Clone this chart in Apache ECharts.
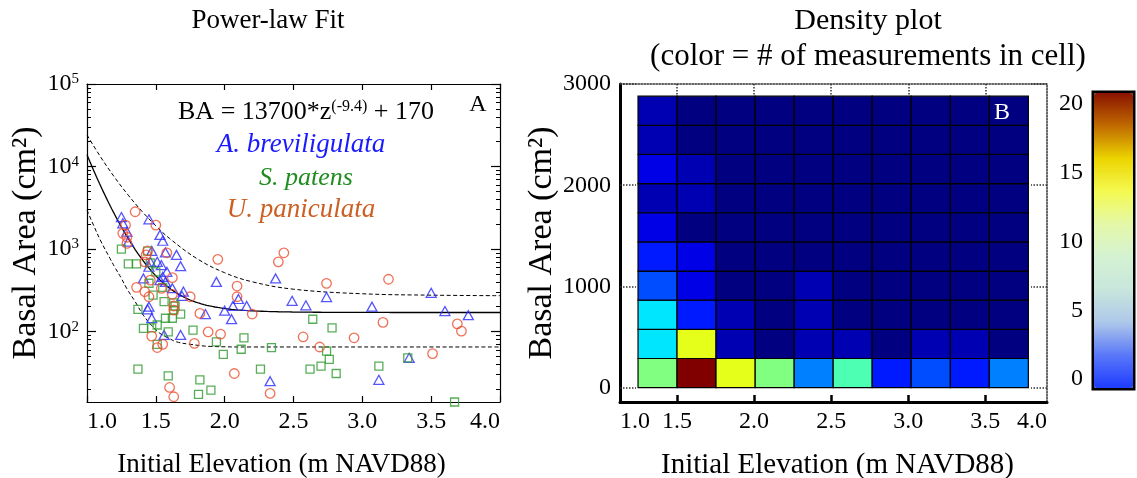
<!DOCTYPE html>
<html>
<head>
<meta charset="utf-8">
<script src="https://cdn.jsdelivr.net/npm/echarts@6/dist/echarts.min.js"></script>
<style>
  html, body { margin: 0; padding: 0; background: #fff; }
  #chart { width: 1137px; height: 478px; }
</style>
</head>
<body>
<div id="chart"></div>
<script>
// ---- Panel A: basal area vs. initial elevation, one list per species ----
// [elevation (m NAVD88), basal area (cm^2)]
const breviligulata = [
  [1.25,2440],[1.26,2050],[1.29,1620],[1.30,1230],[1.45,2290],[1.53,1480],[1.55,1260],
  [1.47,950],[1.57,910],[1.65,850],[1.46,700],[1.51,700],[1.54,640],[1.68,620],[1.45,610],
  [1.58,530],[1.41,440],[1.55,460],[1.53,420],[1.57,400],[1.62,335],[1.70,305],[1.69,270],
  [1.45,200],[1.44,186],[1.47,145],[1.56,91],[1.68,91],[1.94,400],[1.86,163],[2.00,179],
  [2.05,141],[2.06,204],[2.10,248],[2.16,204],[2.37,440],[2.49,236],[2.59,208],[2.33,25],
  [2.74,262],[3.07,200],[3.12,26],[3.34,48],[3.50,295],[3.60,177],[3.77,158]
];
const patens = [
  [1.25,1000],[1.30,660],[1.36,660],[1.44,945],[1.46,680],[1.50,530],[1.45,385],[1.48,277],
  [1.55,343],[1.37,186],[1.41,109],[1.47,111],[1.51,120],[1.57,145],[1.62,145],[1.56,230],
  [1.63,223],[1.64,204],[1.63,182],[1.68,163],[1.59,99],[1.77,104],[1.51,70],[1.37,35],
  [1.59,29],[1.82,26],[1.81,17.3],[1.90,19.5],[1.94,75],[1.99,53],[2.14,84],[2.12,61],
  [2.26,35],[2.34,64],[2.64,141],[2.62,35],[2.78,111],[2.74,58],[2.76,46],[2.70,38],
  [2.81,31],[3.12,38],[3.33,48],[3.67,14]
];
const paniculata = [
  [1.35,2830],[1.28,1950],[1.26,1550],[1.29,1390],[1.29,1170],[1.50,1950],[1.44,950],
  [1.43,850],[1.58,900],[1.42,700],[1.36,343],[1.42,304],[1.45,264],[1.46,420],[1.62,450],
  [1.54,334],[1.62,282],[1.75,264],[1.63,204],[1.63,182],[1.82,166],[1.95,750],[2.09,356],
  [2.09,264],[2.20,163],[1.88,99],[1.97,93],[1.78,72],[1.47,88],[1.55,70],[1.51,64],
  [2.07,31],[1.60,21],[1.63,16.2],[2.33,17.8],[2.39,700],[2.43,900],[2.57,86],[2.74,384],
  [3.19,430],[3.15,129],[2.69,65],[2.94,84],[3.51,54],[3.69,124],[3.72,101]
];

// Power-law fit BA = A * z^B + C, as written on the panel
const FIT_A = 13700, FIT_B = -9.4, FIT_C = 170;
// Envelope around the fit: [elevation, basal area]
const fitUpper = [
  [1.0,24100],[1.1,12970],[1.2,7420],[1.3,4490],[1.4,2856],[1.5,1910],[1.6,1342],
  [1.8,763],[2.0,516],[2.2,401],[2.5,326],[3.0,287],[3.5,276],[4.0,272]
];
const fitLower = [
  [1.0,2970],[1.05,1900],[1.1,1250],[1.167,770],[1.2,610],[1.25,440],[1.288,334],
  [1.35,230],[1.409,158],[1.47,118],[1.53,95],[1.6,82],[1.65,75],[1.75,70],[1.9,66],
  [2.2,65],[3.0,65],[4.0,65]
];

// ---- Panel B: counts per (elevation, basal area) cell ----
const elevEdges = [1.247,1.500,1.753,2.007,2.260,2.513,2.766,3.019,3.273,3.526,3.779];
const areaEdges = [0,288,576,864,1152,1440,1728,2016,2304,2592,2880];
// rows from the lowest basal-area bin upward, columns by elevation
const counts = [
  [10,20,12,10,5,9,3,4,3,5],
  [7,12,1,0,1,1,0,1,1,0],
  [7,3,1,0,1,0,0,0,0,0],
  [4,2,0,0,1,0,0,0,0,0],
  [3,2,0,0,0,0,0,0,0,0],
  [2,0,0,0,0,0,0,0,0,0],
  [1,1,0,0,0,0,0,0,0,0],
  [2,1,0,0,0,0,0,0,0,0],
  [1,0,0,0,0,0,0,0,0,0],
  [1,0,0,0,0,0,0,0,0,0]
];

// Axis ticks and labels
const logMajorTicks = [100, 1000, 10000, 100000];
const elevTicksA = ['1.0','1.5','2.0','2.5','3.0','3.5','4.0'];
const elevTickPosB = [1.13, 1.5, 2.0, 2.5, 3.0, 3.5, 3.90];
const elevTickTextB = ['1.0','1.5','2.0','2.5','3.0','3.5','4.0'];
const elevMarksB = [1.5, 2.0, 2.5, 3.0, 3.5];
const areaTicksB = [0, 1000, 2000, 3000];
const colorbarTicks = [0, 5, 10, 15, 20];

const FONT = "'Liberation Serif', 'Times New Roman', Times, serif";

// minor log ticks at 2..9 of each decade
const logMinorTicks = [];
for (let e = 1; e <= 4; e++) {
  for (let k = 2; k <= 9; k++) {
    const v = k * Math.pow(10, e);
    if (v >= 14 && v <= 100000) logMinorTicks.push(v);
  }
}

// fitted curve sampled along the elevation axis
const fitCurve = [];
for (let i = 0; i <= 300; i++) {
  const z = 1 + i * 0.01;
  fitCurve.push([z, FIT_A * Math.pow(z, FIT_B) + FIT_C]);
}

const cells = [];
for (let r = 0; r < counts.length; r++) {
  for (let c = 0; c < counts[r].length; c++) {
    cells.push([elevEdges[c], elevEdges[c + 1], areaEdges[r], areaEdges[r + 1], counts[r][c]]);
  }
}

const black = '#000';
const labelStyle = { color: black, fontSize: 24, fontFamily: FONT };
const nameStyle = { color: black, fontSize: 27, fontFamily: FONT };
const yNameStyle = { color: black, fontSize: 34, fontFamily: FONT };
const dotted = { color: '#333', width: 1.5, type: [1.5, 1.5] };

function labelFor(positions, texts) {
  return function (v) {
    for (let i = 0; i < positions.length; i++) {
      if (Math.abs(positions[i] - v) < 1e-6) return texts[i];
    }
    return '';
  };
}

const chart = echarts.init(document.getElementById('chart'), null, { renderer: 'canvas' });

chart.setOption({
  backgroundColor: '#fff',
  animation: false,
  grid: [
    { left: 87, top: 84, width: 413, height: 318, outerBoundsMode: 'none' },
    { left: 620, top: 84, width: 427, height: 318, outerBoundsMode: 'none' },
    { left: 1093, top: 92, width: 41, height: 297, outerBoundsMode: 'none',
      show: true, borderColor: black, borderWidth: 3, backgroundColor: 'transparent' }
  ],
  xAxis: [
    {
      gridIndex: 0, type: 'value', min: 1, max: 4, interval: 0.5, position: 'bottom',
      axisLine: { onZero: false, lineStyle: { color: black, width: 1.2 } },
      axisTick: { inside: true, length: 6, lineStyle: { color: black, width: 1.2 } },
      axisLabel: Object.assign({}, labelStyle, {
        margin: 8,
        formatter: (v) => elevTicksA[Math.round((v - 1) / 0.5)],
        alignMinLabel: 'left', alignMaxLabel: 'right'
      }),
      splitLine: { show: false },
      name: 'Initial Elevation (m NAVD88)', nameLocation: 'middle', nameGap: 49,
      nameTextStyle: Object.assign({}, nameStyle, { padding: [0, 24, 0, 0] })
    },
    {
      gridIndex: 0, type: 'value', min: 1, max: 4, interval: 0.5, position: 'top',
      axisLine: { onZero: false, lineStyle: { color: black, width: 1.2 } },
      axisTick: { inside: true, length: 6, lineStyle: { color: black, width: 1.2 } },
      axisLabel: { show: false }, splitLine: { show: false }
    },
    {
      gridIndex: 1, type: 'value', min: 1.13, max: 3.90, position: 'bottom',
      axisLine: { onZero: false, lineStyle: { color: black, width: 3 } },
      axisTick: { inside: true, length: 7, customValues: elevMarksB, lineStyle: { color: black, width: 2.5 } },
      axisLabel: Object.assign({}, labelStyle, {
        margin: 8,
        customValues: elevTickPosB,
        formatter: labelFor(elevTickPosB, elevTickTextB),
        alignMinLabel: 'left', alignMaxLabel: 'right'
      }),
      splitLine: { show: false },
      name: 'Initial Elevation (m NAVD88)', nameLocation: 'middle', nameGap: 49,
      nameTextStyle: Object.assign({}, nameStyle, { fontSize: 29, padding: [0, 0, 0, 8] })
    },
    {
      gridIndex: 1, type: 'value', min: 1.13, max: 3.90, position: 'top',
      axisLine: { onZero: false, lineStyle: dotted },
      axisTick: { inside: true, length: 11, customValues: elevMarksB, lineStyle: dotted },
      axisLabel: { show: false }, splitLine: { show: false }
    },
    { gridIndex: 2, type: 'value', min: 0, max: 1, show: false }
  ],
  yAxis: [
    {
      gridIndex: 0, type: 'log', logBase: 10, min: 14, max: 100000, position: 'left',
      axisLine: { show: true, onZero: false, lineStyle: { color: black, width: 1.2 } },
      axisTick: { show: true, inside: true, length: 9, customValues: logMajorTicks, lineStyle: { color: black, width: 1.2 } },
      axisLabel: {
        color: black, margin: 8, customValues: logMajorTicks,
        formatter: (v) => '{b|10}{s|' + Math.round(Math.log10(v)) + '}',
        rich: {
          b: { fontSize: 24, fontFamily: FONT, color: black },
          s: { fontSize: 15, fontFamily: FONT, color: black, verticalAlign: 'top' }
        }
      },
      splitLine: { show: false },
      name: 'Basal Area (cm²)', nameLocation: 'middle', nameGap: 44, nameTextStyle: yNameStyle
    },
    {
      gridIndex: 0, type: 'log', logBase: 10, min: 14, max: 100000, position: 'left',
      axisLine: { show: false },
      axisTick: { show: true, inside: true, length: 4, customValues: logMinorTicks, lineStyle: { color: black, width: 1 } },
      axisLabel: { show: false }, splitLine: { show: false }
    },
    {
      gridIndex: 0, type: 'log', logBase: 10, min: 14, max: 100000, position: 'right',
      axisLine: { show: true, onZero: false, lineStyle: { color: black, width: 1.2 } },
      axisTick: { show: true, inside: true, length: 9, customValues: logMajorTicks, lineStyle: { color: black, width: 1.2 } },
      axisLabel: { show: false }, splitLine: { show: false }
    },
    {
      gridIndex: 0, type: 'log', logBase: 10, min: 14, max: 100000, position: 'right',
      axisLine: { show: false },
      axisTick: { show: true, inside: true, length: 4, customValues: logMinorTicks, lineStyle: { color: black, width: 1 } },
      axisLabel: { show: false }, splitLine: { show: false }
    },
    {
      gridIndex: 1, type: 'value', min: -142, max: 3000, position: 'left',
      axisLine: { show: true, onZero: false, lineStyle: { color: black, width: 3 } },
      axisTick: { show: true, inside: true, length: 16, customValues: areaTicksB, lineStyle: dotted },
      axisLabel: Object.assign({}, labelStyle, { margin: 9, customValues: areaTicksB, formatter: (v) => String(v) }),
      splitLine: { show: false },
      name: 'Basal Area (cm²)', nameLocation: 'middle', nameGap: 60, nameTextStyle: yNameStyle
    },
    {
      gridIndex: 1, type: 'value', min: -142, max: 3000, position: 'right',
      axisLine: { show: true, onZero: false, lineStyle: dotted },
      axisTick: { show: true, inside: true, length: 16, customValues: areaTicksB, lineStyle: dotted },
      axisLabel: { show: false }, splitLine: { show: false }
    },
    {
      gridIndex: 2, type: 'value', min: -0.72, max: 20.87, position: 'left',
      axisLine: { show: false }, axisTick: { show: false },
      axisLabel: Object.assign({}, labelStyle, { margin: 10, customValues: colorbarTicks, formatter: (v) => String(v) }),
      splitLine: { show: false }
    }
  ],
  visualMap: [
    {
      type: 'continuous', show: false, seriesIndex: 6, dimension: 4, min: 0, max: 20,
      inRange: { color: ['#000080','#0000ff','#0080ff','#00ffff','#80ff80','#ffff00','#ff8000','#ff0000','#800000'] }
    },
    {
      type: 'continuous', seriesIndex: 7, dimension: 1, min: -0.62, max: 20.77,
      left: 1094, top: 93, itemWidth: 39, itemHeight: 295, padding: 0,
      borderWidth: 0, calculable: false, hoverLink: false, z: 1,
      inRange: { color: ['#1e3cff','#5a78f8','#aec8ea','#c8e6dc','#d4f2d2','#e4f8a8','#f4fa50','#ecd400','#c06a00','#8a1200'] }
    }
  ],
  series: [
    {
      name: 'A. breviligulata', type: 'scatter', xAxisIndex: 0, yAxisIndex: 0,
      symbol: 'triangle', symbolSize: [10, 9], data: breviligulata, z: 3,
      itemStyle: { color: 'transparent', borderColor: '#2b2bff', borderWidth: 1.3 }
    },
    {
      name: 'S. patens', type: 'scatter', xAxisIndex: 0, yAxisIndex: 0,
      symbol: 'rect', symbolSize: 8, data: patens, z: 3,
      itemStyle: { color: 'transparent', borderColor: '#2e9a2e', borderWidth: 1.3 }
    },
    {
      name: 'U. paniculata', type: 'scatter', xAxisIndex: 0, yAxisIndex: 0,
      symbol: 'circle', symbolSize: 9.5, data: paniculata, z: 3,
      itemStyle: { color: 'transparent', borderColor: '#ec4e2e', borderWidth: 1.3 }
    },
    {
      name: 'fit', type: 'line', xAxisIndex: 0, yAxisIndex: 0, data: fitCurve,
      showSymbol: false, symbol: 'none', z: 2,
      lineStyle: { color: black, width: 1.3 }
    },
    {
      name: 'upper', type: 'line', xAxisIndex: 0, yAxisIndex: 0, data: fitUpper,
      showSymbol: false, symbol: 'none', smooth: 0.4, z: 2,
      lineStyle: { color: black, width: 1, type: [4, 2.5] }
    },
    {
      name: 'lower', type: 'line', xAxisIndex: 0, yAxisIndex: 0, data: fitLower,
      showSymbol: false, symbol: 'none', smooth: 0.4, z: 2,
      lineStyle: { color: black, width: 1, type: [4, 2.5] }
    },
    {
      name: 'density', type: 'custom', xAxisIndex: 2, yAxisIndex: 4,
      dimensions: ['x0', 'x1', 'y0', 'y1', 'count'],
      encode: { x: [0, 1], y: [2, 3] },
      data: cells,
      renderItem: function (params, api) {
        const tl = api.coord([api.value(0), api.value(3)]);
        const br = api.coord([api.value(1), api.value(2)]);
        return {
          type: 'rect',
          shape: { x: tl[0], y: tl[1], width: br[0] - tl[0], height: br[1] - tl[1] },
          style: { fill: api.visual('color'), stroke: black, lineWidth: 1.2 }
        };
      }
    },
    { name: 'colorbar', type: 'scatter', xAxisIndex: 4, yAxisIndex: 6, data: [] }
  ],
  graphic: [
    { type: 'text', x: 268, y: 21, style: { text: 'Power-law Fit', font: '27px ' + FONT, fill: black, align: 'center', verticalAlign: 'middle' } },
    { type: 'text', x: 868, y: 21, style: { text: 'Density plot', font: '30px ' + FONT, fill: black, align: 'center', verticalAlign: 'middle' } },
    { type: 'text', x: 868, y: 57, style: { text: '(color = # of measurements in cell)', font: '31px ' + FONT, fill: black, align: 'center', verticalAlign: 'middle' } },
    {
      type: 'text', x: 306, y: 112, z: 10,
      style: {
        text: '{m|BA = 13700*z}{s|(-9.4)}{m| + 170}', align: 'center', verticalAlign: 'middle',
        rich: {
          m: { fontSize: 26, fontFamily: FONT, fill: black },
          s: { fontSize: 16, fontFamily: FONT, fill: black, verticalAlign: 'top' }
        }
      }
    },
    { type: 'text', x: 301, y: 145, z: 10, style: { text: 'A. breviligulata', font: 'italic 27px ' + FONT, fill: '#1a1aff', align: 'center', verticalAlign: 'middle' } },
    { type: 'text', x: 306, y: 178, z: 10, style: { text: 'S. patens', font: 'italic 26px ' + FONT, fill: '#1e8c1e', align: 'center', verticalAlign: 'middle' } },
    { type: 'text', x: 301, y: 210, z: 10, style: { text: 'U. paniculata', font: 'italic 27px ' + FONT, fill: '#cc5f22', align: 'center', verticalAlign: 'middle' } },
    { type: 'text', x: 478, y: 105, z: 10, style: { text: 'A', font: '24px ' + FONT, fill: black, align: 'center', verticalAlign: 'middle' } },
    { type: 'text', x: 1002, y: 113, z: 10, style: { text: 'B', font: '24px ' + FONT, fill: '#fff', align: 'center', verticalAlign: 'middle' } }
  ]
});
</script>
</body>
</html>
